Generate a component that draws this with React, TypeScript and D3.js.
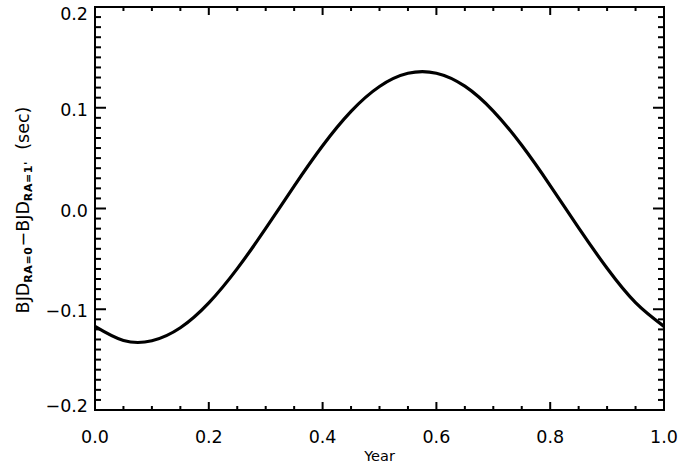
import React from "react";
import * as d3 from "d3";

const years = [0.0, 0.05, 0.1, 0.15, 0.2, 0.25, 0.3, 0.35, 0.4, 0.45, 0.5, 0.55, 0.6, 0.65, 0.7, 0.75, 0.8, 0.85, 0.9, 0.95, 1.0];
const diffSec = [-0.117, -0.131, -0.1313, -0.1184, -0.0937, -0.0597, -0.0198, 0.0223, 0.0623, 0.0964, 0.1211, 0.1342, 0.1343, 0.1214, 0.0967, 0.0627, 0.0228, -0.0193, -0.0593, -0.0934, -0.117];

const xTickLabels = ["0.0", "0.2", "0.4", "0.6", "0.8", "1.0"];
const yTickLabels = ["−0.2", "−0.1", "0.0", "0.1", "0.2"];
const xMajor = [0, 0.2, 0.4, 0.6, 0.8, 1.0];
const yMajor = [-0.2, -0.1, 0, 0.1, 0.2];

const W = 697, H = 465;
const M = { left: 95, right: 664, top: 7, bottom: 410 };
const FONT = "'DejaVu Sans', 'Liberation Sans', sans-serif";

export default function App() {
  const x = d3.scaleLinear().domain([0, 1]).range([M.left, M.right]);
  const y = d3.scaleLinear().domain([-0.2, 0.2]).range([M.bottom, M.top]);
  const pts = years.map((v, i) => [v, diffSec[i]] as [number, number]);
  const line = d3.line<[number, number]>().x(d => x(d[0])).y(d => y(d[1])).curve(d3.curveNatural);

  const xMinor = d3.range(0, 1.0001, 0.05);
  const yMinor = d3.range(-0.2, 0.20001, 0.01);
  const xMajLen = 8, xMinLen = 4, yMajLen = 11, yMinLen = 6;
  const isMajX = (v: number) => Math.abs(v * 5 - Math.round(v * 5)) < 1e-6;
  const isMajY = (v: number) => Math.abs(v * 10 - Math.round(v * 10)) < 1e-6;
  const yLabBase = (v: number) => Math.max(20, Math.min(411.5, y(v) + 8));

  return (
    <svg width={W} height={H} style={{ position: "absolute", left: 0, top: 0 }}>
      <rect x={0} y={0} width={W} height={H} fill="#fff" />
      <g stroke="#000" strokeWidth={2}>
        {xMinor.map((v, i) => {
          const L = isMajX(v) ? xMajLen : xMinLen;
          return (
            <g key={"xt" + i}>
              <line x1={x(v)} x2={x(v)} y1={M.bottom} y2={M.bottom - L} />
              <line x1={x(v)} x2={x(v)} y1={M.top} y2={M.top + L} />
            </g>
          );
        })}
        {yMinor.map((v, i) => {
          const L = isMajY(v) ? yMajLen : yMinLen;
          return (
            <g key={"yt" + i}>
              <line x1={M.left} x2={M.left + L} y1={y(v)} y2={y(v)} />
              <line x1={M.right} x2={M.right - L} y1={y(v)} y2={y(v)} />
            </g>
          );
        })}
        <rect x={M.left} y={M.top} width={M.right - M.left} height={M.bottom - M.top} fill="none" />
      </g>
      <path d={line(pts) || ""} fill="none" stroke="#000" strokeWidth={3.2} />
      <g fontFamily={FONT} fontSize={17.5} fill="#000">
        {xMajor.map((v, i) => (
          <text key={"xl" + i} x={x(v)} y={443} textAnchor="middle">{xTickLabels[i]}</text>
        ))}
        {yMajor.map((v, i) => (
          <text key={"yl" + i} x={88} y={yLabBase(v)} textAnchor="end">{yTickLabels[i]}</text>
        ))}
        <text x={x(0.5)} y={461} textAnchor="middle" fontSize={14.5}>Year</text>
        <text transform={`translate(29,${210}) rotate(-90)`} textAnchor="middle" fontSize={17.5}>
          <tspan>BJD</tspan>
          <tspan fontSize={11} dy={3} fontWeight="bold" letterSpacing={0.6}>RA=0</tspan>
          <tspan dy={-3}>−BJD</tspan>
          <tspan fontSize={11} dy={3} fontWeight="bold" letterSpacing={0.6}>RA=1'</tspan>
          <tspan dy={-3}>{"\u00a0\u00a0(sec)"}</tspan>
        </text>
      </g>
    </svg>
  );
}
